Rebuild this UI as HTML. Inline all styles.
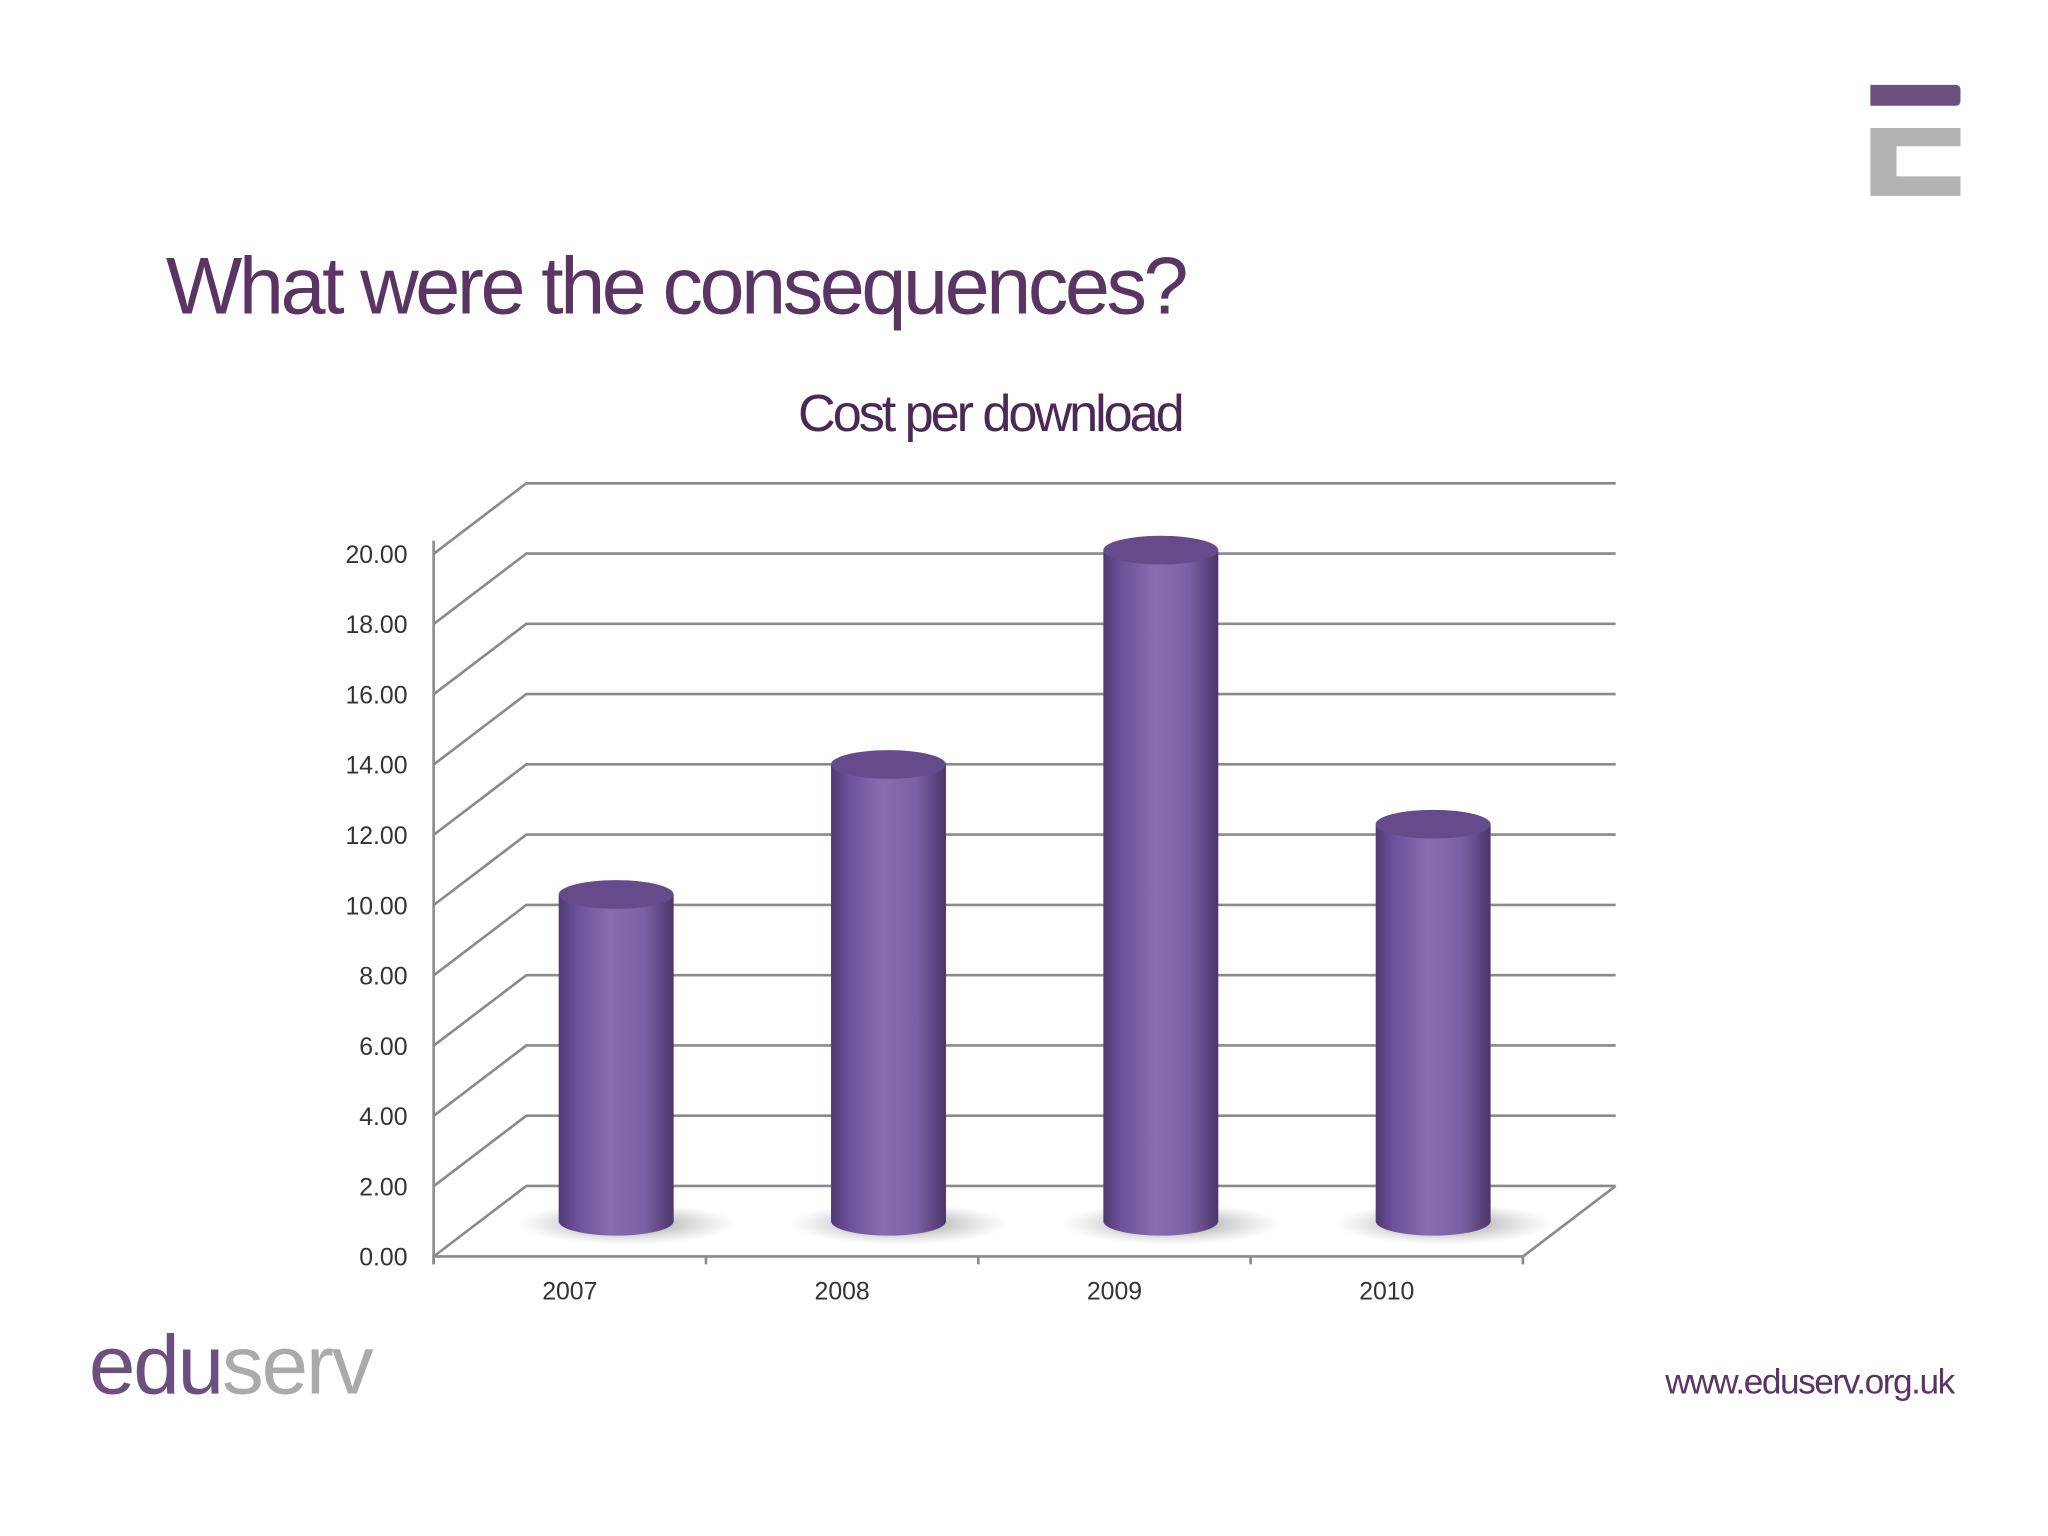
<!DOCTYPE html>
<html><head><meta charset="utf-8"><style>
html,body{margin:0;padding:0;background:#fff;}
svg{display:block;}
text{font-family:"Liberation Sans",sans-serif;}
</style></head><body>
<svg id="chart" width="2048" height="1536" viewBox="0 0 1568 1176">
<defs>
<linearGradient id="cyl" x1="0" x2="1" y1="0" y2="0">
<stop offset="0" stop-color="#4f3a72"/><stop offset="0.15" stop-color="#6a519a"/>
<stop offset="0.45" stop-color="#8a6db1"/><stop offset="0.75" stop-color="#7a60a4"/>
<stop offset="1" stop-color="#4a356b"/></linearGradient>
<radialGradient id="shadow"><stop offset="0" stop-color="#555" stop-opacity="0.7"/><stop offset="1" stop-color="#999" stop-opacity="0"/></radialGradient>
</defs>
<rect width="1568" height="1176" fill="#fff"/>
<g>
<path d="M1432 65 H1497 Q1501 65 1501 69 V77 Q1501 81 1497 81 H1432 Z" fill="#6a4f7f"/>
<path d="M1432 98 H1501 V112 H1452 V135 H1501 V150 H1432 Z" fill="#b3b3b3"/>
</g>
<text x="127" y="240" font-size="62" fill="#5a3563" textLength="783">What were the consequences?</text>
<text x="759" y="330" font-size="40" fill="#4a2a55" text-anchor="middle" textLength="296">Cost per download</text>
<g id="grid"></g>
<g id="bars"></g>
<text x="1275" y="1067" font-size="27" fill="#5a3563" textLength="222">www.eduserv.org.uk</text>
<text x="68" y="1067" font-size="64" letter-spacing="-3" textLength="215"><tspan fill="#6a4f7f">edu</tspan><tspan fill="#aaaaaa">serv</tspan></text>
</svg>
<script>
const categories = ["2007","2008","2009","2010"];
const values = [9.3, 13.0, 19.1, 11.3];
const tickLabels = ["0.00","2.00","4.00","6.00","8.00","10.00","12.00","14.00","16.00","18.00","20.00"];
const NS="http://www.w3.org/2000/svg";
const x0=332,x1=1166,y0=962,yTop=424,vmax=20,dx=71,dy=-54;
const yScale=v=>y0-(v/vmax)*(y0-yTop);
const band=(x1-x0)/categories.length;
const xCat=i=>x0+band*(i+0.5);
function el(t,a,p){const e=document.createElementNS(NS,t);for(const k in a)e.setAttribute(k,a[k]);p.appendChild(e);return e;}
const g=document.getElementById('grid'),b=document.getElementById('bars');
const gc="#8a8a8a";
tickLabels.forEach((t,i)=>{
  const v=parseFloat(t),y=yScale(v);
  const l=el('path',{d:`M${x0} ${y} L${x0+dx} ${y+dy} H${x1+dx}`,stroke:gc,'stroke-width':2,fill:'none'},g);
  
  
  const tx=el('text',{x:312,y:y+7,'font-size':19,fill:'#333','text-anchor':'end'},g);
  tx.textContent=t;
  
  
});
const fl=el('path',{d:`M${x1} ${y0} L${x1+dx} ${y0+dy}`,stroke:gc,'stroke-width':2,fill:'none'},g);


const ax=el('path',{d:`M${x0} ${yTop-10} V${y0} H${x1} M${x0} ${y0} v6`,stroke:gc,'stroke-width':2,fill:'none'},g);


for(let i=0;i<=categories.length;i++){
  const t=el('line',{x1:x0+band*i,x2:x0+band*i,y1:y0,y2:y0+6,stroke:gc,'stroke-width':2},g);
  
  
}
categories.forEach((c,i)=>{
  const tx=el('text',{x:xCat(i),y:995,'font-size':19,fill:'#333','text-anchor':'middle'},g);
  tx.textContent=c;
  
  
  const cx=xCat(i)+dx/2, base=y0+dy/2, top=base-(values[i]/vmax)*(y0-yTop), r=44, ry=11;
  const grp=el('g',{},b);
  
  
  el('ellipse',{cx:cx+8,cy:base+2,rx:r+40,ry:16,fill:'url(#shadow)'},grp);
  el('path',{d:`M${cx-r} ${top} V${base} A${r} ${ry} 0 0 0 ${cx+r} ${base} V${top} Z`,fill:'url(#cyl)'},grp);
  el('ellipse',{cx:cx,cy:top,rx:r,ry:ry,fill:'#654b8c'},grp);
});
</script>
</body></html>
